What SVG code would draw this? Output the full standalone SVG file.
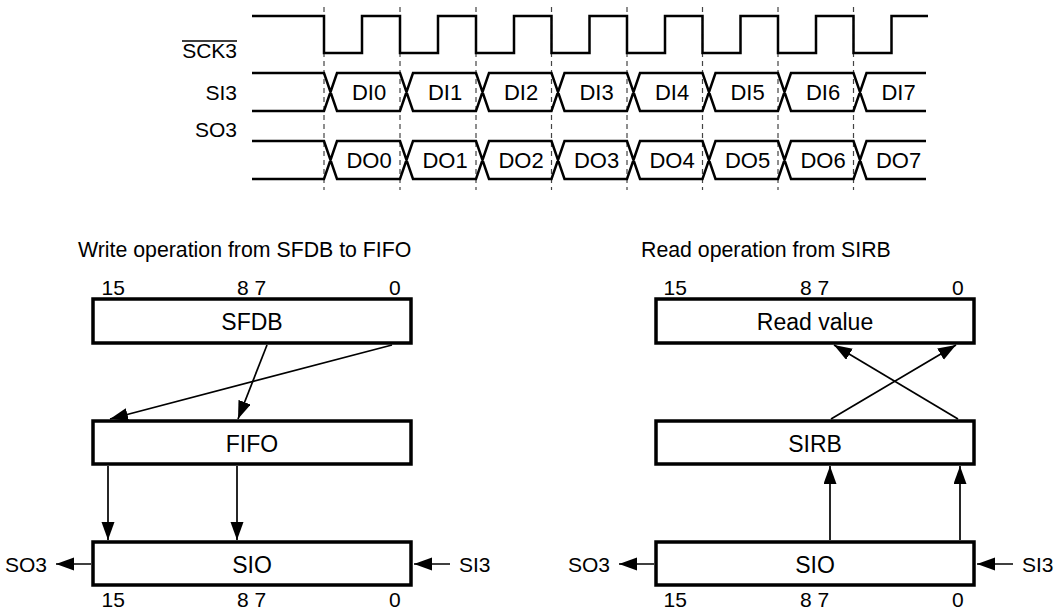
<svg xmlns="http://www.w3.org/2000/svg" width="1056" height="610" viewBox="0 0 1056 610">
<style>
text{font-family:"Liberation Sans",Arial,sans-serif;fill:#000}
.lbl{font-size:21px}
.ttl{font-size:21.3px}
.dat{font-size:22px;text-anchor:middle}
.box{fill:#fff;stroke:#000;stroke-width:3.5}
.bl{font-size:23px;text-anchor:middle}
.num{font-size:21px}
.wave{fill:none;stroke:#000;stroke-width:2.5;stroke-linejoin:miter}
.dash{stroke:#444;stroke-width:1.2;stroke-dasharray:5 4}
.arr{stroke:#000;stroke-width:1.7;fill:none;marker-end:url(#ah)}
</style>
<defs>
<marker id="ah" markerUnits="userSpaceOnUse" markerWidth="19" markerHeight="14" refX="18" refY="6.5" orient="auto">
<path d="M0,0 L18,6.5 L0,13 z" fill="#000"/>
</marker>
<path id="bus" class="wave" d="M252,73 H324 L337,111 H400 L413,73 H476 L489,111 H551.5 L564.5,73 H627 L640,111 H702.5 L715.5,73 H778 L791,111 H853.5 L866.5,73 H926 M252,111 H324 L337,73 H400 L413,111 H476 L489,73 H551.5 L564.5,111 H627 L640,73 H702.5 L715.5,111 H778 L791,73 H853.5 L866.5,111 H926"/>
</defs>
<rect width="1056" height="610" fill="#fff"/>

<g id="timing">
<g id="gridlines">
<line class="dash" x1="324" y1="7" x2="324" y2="190"/>
<line class="dash" x1="400" y1="7" x2="400" y2="190"/>
<line class="dash" x1="476" y1="7" x2="476" y2="190"/>
<line class="dash" x1="551.5" y1="7" x2="551.5" y2="190"/>
<line class="dash" x1="627" y1="7" x2="627" y2="190"/>
<line class="dash" x1="702.5" y1="7" x2="702.5" y2="190"/>
<line class="dash" x1="778" y1="7" x2="778" y2="190"/>
<line class="dash" x1="853.5" y1="7" x2="853.5" y2="190"/>
</g>
<g id="sck3">
<text class="lbl" x="237" y="58" text-anchor="end">SCK3</text>
<line x1="182" y1="41" x2="237" y2="41" stroke="#000" stroke-width="1.5"/>
<path class="wave" d="M252,16 H324 V53 H362 V16 H400 V53 H438 V16 H476 V53 H514 V16 H551.5 V53 H589.5 V16 H627 V53 H665 V16 H702.5 V53 H740.5 V16 H778 V53 H816 V16 H853.5 V53 H891.5 V16 H928"/>
</g>
<g id="si3">
<text class="lbl" x="237" y="99.5" text-anchor="end">SI3</text>
<use href="#bus"/>
<text class="dat" x="369" y="100">DI0</text>
<text class="dat" x="445" y="100">DI1</text>
<text class="dat" x="521" y="100">DI2</text>
<text class="dat" x="596.5" y="100">DI3</text>
<text class="dat" x="672" y="100">DI4</text>
<text class="dat" x="747.5" y="100">DI5</text>
<text class="dat" x="823" y="100">DI6</text>
<text class="dat" x="898.5" y="100">DI7</text>
</g>
<g id="so3">
<text class="lbl" x="237" y="136.5" text-anchor="end">SO3</text>
<use href="#bus" transform="translate(0,68)"/>
<text class="dat" x="369" y="168">DO0</text>
<text class="dat" x="445" y="168">DO1</text>
<text class="dat" x="521" y="168">DO2</text>
<text class="dat" x="596.5" y="168">DO3</text>
<text class="dat" x="672" y="168">DO4</text>
<text class="dat" x="747.5" y="168">DO5</text>
<text class="dat" x="823" y="168">DO6</text>
<text class="dat" x="898.5" y="168">DO7</text>
</g>
</g>

<text class="ttl" x="78" y="257">Write operation from SFDB to FIFO</text>
<text class="ttl" x="641" y="257">Read operation from SIRB</text>

<g id="sfdb">
<text class="num" x="101.5" y="295">15</text>
<text class="num" x="237" y="295">8 7</text>
<text class="num" x="389" y="295">0</text>
<rect class="box" x="93" y="299" width="318" height="44"/>
<text class="bl" x="252" y="330">SFDB</text>
</g>
<g id="fifo">
<rect class="box" x="93" y="421" width="318" height="43"/>
<text class="bl" x="252" y="452">FIFO</text>
</g>
<g id="sio-left">
<rect class="box" x="93" y="542" width="318" height="43"/>
<text class="bl" x="252" y="573">SIO</text>
<text class="num" x="101.5" y="607">15</text>
<text class="num" x="237" y="607">8 7</text>
<text class="num" x="389" y="607">0</text>
<text class="lbl" x="5" y="572">SO3</text>
<text class="lbl" x="459" y="572">SI3</text>
</g>

<g id="readvalue">
<text class="num" x="663.5" y="295">15</text>
<text class="num" x="800" y="295">8 7</text>
<text class="num" x="952" y="295">0</text>
<rect class="box" x="656" y="299" width="318" height="44"/>
<text class="bl" x="815" y="330">Read value</text>
</g>
<g id="sirb">
<rect class="box" x="656" y="421" width="318" height="43"/>
<text class="bl" x="815" y="452">SIRB</text>
</g>
<g id="sio-right">
<rect class="box" x="656" y="542" width="318" height="43"/>
<text class="bl" x="815" y="573">SIO</text>
<text class="num" x="663.5" y="607">15</text>
<text class="num" x="800" y="607">8 7</text>
<text class="num" x="952" y="607">0</text>
<text class="lbl" x="568" y="572">SO3</text>
<text class="lbl" x="1022" y="572">SI3</text>
</g>

<g id="connectors">
<line class="arr" x1="267" y1="345" x2="238" y2="419"/>
<line class="arr" x1="392" y1="345" x2="110" y2="419"/>
<line class="arr" x1="108" y1="466" x2="108" y2="540"/>
<line class="arr" x1="237" y1="466" x2="237" y2="540"/>
<line class="arr" x1="91" y1="564" x2="56" y2="564"/>
<line class="arr" x1="450" y1="564" x2="414" y2="564"/>
<line class="arr" x1="830" y1="540" x2="830" y2="466"/>
<line class="arr" x1="960" y1="540" x2="960" y2="466"/>
<line class="arr" x1="831" y1="419" x2="956" y2="345"/>
<line class="arr" x1="958" y1="419" x2="834" y2="345"/>
<line class="arr" x1="654" y1="564" x2="619" y2="564"/>
<line class="arr" x1="1013" y1="564" x2="977" y2="564"/>
</g>
</svg>
